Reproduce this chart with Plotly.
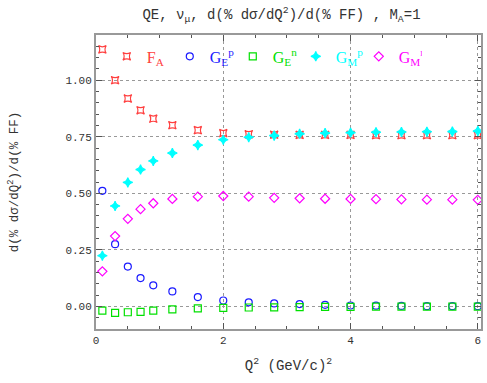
import plotly.graph_objects as go

q2 = [0.1, 0.3, 0.5, 0.7, 0.9, 1.2, 1.6, 2.0, 2.4, 2.8, 3.2, 3.6, 4.0, 4.4, 4.8, 5.2, 5.6, 6.0]
fa = [1.136, 1.000, 0.919, 0.867, 0.830, 0.801, 0.779, 0.766, 0.761, 0.759, 0.758, 0.758, 0.758, 0.757, 0.757, 0.757, 0.757, 0.757]
gep = [0.511, 0.275, 0.176, 0.125, 0.093, 0.066, 0.041, 0.026, 0.018, 0.013, 0.010, 0.007, 0.004, 0.003, 0.002, 0.001, 0.001, 0.001]
gen = [-0.019, -0.029, -0.026, -0.024, -0.019, -0.013, -0.009, -0.007, -0.005, -0.004, -0.003, -0.002, -0.002, -0.001, -0.001, -0.001, -0.001, -0.001]
gmp = [0.224, 0.444, 0.548, 0.605, 0.643, 0.678, 0.713, 0.737, 0.748, 0.755, 0.763, 0.766, 0.768, 0.770, 0.771, 0.772, 0.773, 0.775]
gmn = [0.155, 0.311, 0.387, 0.430, 0.456, 0.475, 0.485, 0.488, 0.485, 0.480, 0.478, 0.476, 0.475, 0.474, 0.473, 0.472, 0.472, 0.471]

series = [
    ("F<sub>A</sub>", fa, "#ff4040", "star-square-open", 7),
    ("G<sub>E</sub><sup>p</sup>", gep, "#1a1aff", "circle-open", 7),
    ("G<sub>E</sub><sup>n</sup>", gen, "#00e000", "square-open", 7),
    ("G<sub>M</sub><sup>p</sup>", gmp, "#00ffff", "star-diamond", 7),
    ("G<sub>M</sub><sup>n</sup>", gmn, "#ff00ff", "diamond-open", 7),
]

fig = go.Figure()
for name, vals, col, sym, sz in series:
    fig.add_trace(go.Scatter(
        x=q2, y=vals, mode="markers",
        name=f'<span style="color:{col}">{name}</span>',
        marker=dict(symbol=sym, size=sz, color=col, line=dict(color=col, width=1.2)),
    ))

mono = "Liberation Mono"
serif = "Liberation Serif"
axis_common = dict(
    showline=True, linecolor="#999999", linewidth=2, mirror="allticks",
    ticks="inside", ticklen=6, tickcolor="#555555",
    showgrid=True, gridcolor="#999999", griddash="dot", gridwidth=1,
    zeroline=False, automargin=False,
    tickfont=dict(family=mono, size=11, color="#333333"),
)

fig.update_layout(
    width=487, height=383,
    margin=dict(l=96, r=6, t=35, b=54),
    paper_bgcolor="white", plot_bgcolor="white",
    title=dict(text="QE, ν<sub>μ</sub>, d(% dσ/dQ<sup>2</sup>)/d(% FF) , M<sub>A</sub>=1",
               x=0.578, xanchor="center", y=0.975, yanchor="top",
               font=dict(family=mono, size=14, color="#333333")),
    xaxis=dict(range=[0, 6.05], tickvals=[0, 2, 4, 6],
               minor=dict(ticks="inside", ticklen=3, dtick=0.5, tickcolor="#555555", showgrid=False),
               title=dict(text="Q<sup>2</sup> (GeV/c)<sup>2</sup>", font=dict(family=mono, size=14, color="#333333"), standoff=14),
               **axis_common),
    yaxis=dict(range=[-0.1, 1.2], tickvals=[0, 0.25, 0.5, 0.75, 1.0], tickformat=".2f",
               minor=dict(ticks="inside", ticklen=3, dtick=0.05, tickcolor="#555555", showgrid=False),
               title=dict(text="d(% dσ/dQ<sup>2</sup>)/d(% FF)", font=dict(family=mono, size=12.5, color="#333333"), standoff=44),
               **axis_common),
    legend=dict(orientation="h", x=0.028, y=0.985, xanchor="left", yanchor="top",
                bgcolor="rgba(0,0,0,0)", entrywidth=18, entrywidthmode="pixels",
                itemwidth=30, font=dict(family=serif, size=16), tracegroupgap=0),
    showlegend=True,
)

fig.write_html("out.html", config={"displayModeBar": False},
               post_script="document.body.style.margin='0';document.body.style.padding='0';")
